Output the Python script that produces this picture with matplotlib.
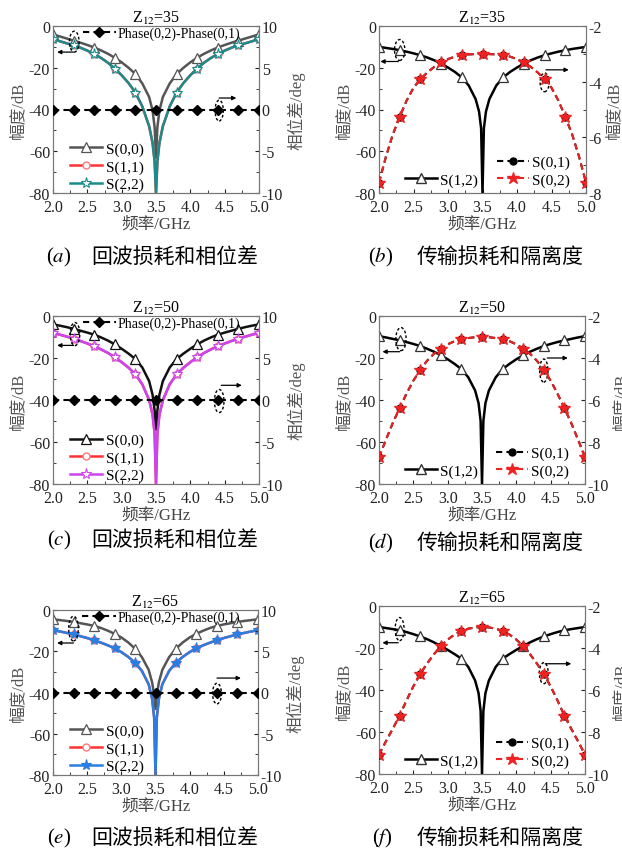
import matplotlib
matplotlib.use('Agg')
import matplotlib.pyplot as plt
import matplotlib.patches as patches
from matplotlib.lines import Line2D
from matplotlib.ticker import MultipleLocator, FormatStrFormatter

plt.rcParams['font.family'] = ['Liberation Serif', 'Noto Sans CJK SC']
plt.rcParams['mathtext.fontset'] = 'stix'
plt.rcParams['axes.unicode_minus'] = False

# frequency grid for the return-loss / S(1,2) curves (GHz)
freq = [2.0, 2.1, 2.2, 2.3, 2.4, 2.5, 2.6, 2.7, 2.8, 2.9, 3.0, 3.1, 3.2, 3.3, 3.4,
        3.45, 3.48, 3.5, 3.52, 3.55,
        3.6, 3.7, 3.8, 3.9, 4.0, 4.1, 4.2, 4.3, 4.4, 4.5, 4.6, 4.7, 4.8, 4.9, 5.0]
# frequency grid for the S(0,1)/S(0,2) curves
freq2 = [2.0, 2.1, 2.2, 2.3, 2.4, 2.5, 2.6, 2.7, 2.8, 2.9, 3.0, 3.1, 3.2, 3.3, 3.4, 3.5,
         3.6, 3.7, 3.8, 3.9, 4.0, 4.1, 4.2, 4.3, 4.4, 4.5, 4.6, 4.7, 4.8, 4.9, 5.0]
# phase markers
freq_ph = [2.0, 2.3, 2.6, 2.9, 3.2, 3.5, 3.8, 4.1, 4.4, 4.7, 5.0]
phase_diff = [0, 0, 0, 0, 0, 0, 0, 0, 0, 0, 0]

# Z12 = 35
s00_35 = [-4.0, -5.0, -6.0, -7.0, -8.0, -9.1, -10.3, -11.7, -13.3, -15.2, -17.4, -20.0, -23.0, -27.5, -34.0,
          -40.5, -48.5, -63.0, -48.5, -40.5,
          -34.0, -27.5, -23.0, -20.0, -17.4, -15.2, -13.3, -11.7, -10.3, -9.1, -8.0, -7.0, -6.0, -5.0, -4.0]
s22_35 = [-6.3, -7.3, -8.3, -9.2, -10.4, -11.8, -13.5, -15.3, -17.6, -20.4, -23.6, -27.3, -31.9, -38.5, -48.0,
          -56.0, -65.0, -80.0, -65.0, -56.0,
          -48.0, -38.5, -31.9, -27.3, -23.6, -20.4, -17.6, -15.3, -13.5, -11.8, -10.4, -9.2, -8.3, -7.3, -6.3]
s12_35 = [-10.0, -10.5, -11.0, -11.6, -12.3, -13.1, -14.0, -15.1, -16.4, -18.0, -19.9, -22.0, -24.6, -28.5, -35.0,
          -41.0, -49.0, -80.0, -49.0, -41.0,
          -35.0, -28.5, -24.6, -22.0, -19.9, -18.0, -16.4, -15.1, -14.0, -13.1, -12.3, -11.6, -11.0, -10.5, -10.0]
s02_35 = [-7.63, -6.70, -5.90, -5.26, -4.68, -4.22, -3.91, -3.67, -3.47, -3.31, -3.19, -3.10, -3.05, -3.02, -3.01, -3.00,
          -3.01, -3.02, -3.05, -3.10, -3.19, -3.31, -3.47, -3.67, -3.91, -4.22, -4.68, -5.26, -5.90, -6.70, -7.63]

# Z12 = 50
s00_50 = [-4.0, -4.6, -5.3, -6.1, -7.0, -7.9, -8.9, -10.2, -11.7, -13.5, -15.6, -17.9, -20.5, -24.5, -31.0,
          -37.5, -45.0, -54.0, -45.0, -37.5,
          -31.0, -24.5, -20.5, -17.9, -15.6, -13.5, -11.7, -10.2, -8.9, -7.9, -7.0, -6.1, -5.3, -4.6, -4.0]
s22_50 = [-8.0, -8.9, -9.8, -10.8, -11.9, -13.1, -14.4, -15.9, -17.6, -19.6, -22.0, -24.6, -27.8, -32.5, -40.0,
          -47.0, -56.0, -80.0, -56.0, -47.0,
          -40.0, -32.5, -27.8, -24.6, -22.0, -19.6, -17.6, -15.9, -14.4, -13.1, -11.9, -10.8, -9.8, -8.9, -8.0]
s12_50 = [-9.6, -10.2, -10.9, -11.6, -12.4, -13.3, -14.3, -15.6, -17.0, -18.7, -20.6, -22.8, -25.3, -29.2, -35.5,
          -41.5, -50.0, -80.0, -50.0, -41.5,
          -35.5, -29.2, -25.3, -22.8, -20.6, -18.7, -17.0, -15.6, -14.3, -13.3, -12.4, -11.6, -10.9, -10.2, -9.6]
s02_50 = [-8.73, -7.90, -7.10, -6.39, -5.70, -5.08, -4.57, -4.13, -3.80, -3.55, -3.35, -3.20, -3.11, -3.05, -3.01, -3.00,
          -3.01, -3.05, -3.11, -3.20, -3.35, -3.55, -3.80, -4.13, -4.57, -5.08, -5.70, -6.39, -7.10, -7.90, -8.73]

# Z12 = 65
s00_65 = [-4.5, -4.9, -5.3, -5.8, -6.4, -7.0, -7.7, -8.7, -10.0, -11.5, -13.3, -15.7, -18.7, -22.8, -29.0,
          -35.0, -41.0, -48.0, -41.0, -35.0,
          -29.0, -22.8, -18.7, -15.7, -13.3, -11.5, -10.0, -8.7, -7.7, -7.0, -6.4, -5.8, -5.3, -4.9, -4.5]
s22_65 = [-9.8, -10.4, -11.1, -11.8, -12.7, -13.6, -14.7, -15.8, -17.1, -18.5, -20.4, -22.7, -25.5, -29.5, -36.0,
          -43.0, -52.0, -80.0, -52.0, -43.0,
          -36.0, -29.5, -25.5, -22.7, -20.4, -18.5, -17.1, -15.8, -14.7, -13.6, -12.7, -11.8, -11.1, -10.4, -9.8]
s12_65 = [-10.0, -10.5, -11.0, -11.6, -12.4, -13.4, -14.5, -15.8, -17.3, -19.1, -20.9, -22.9, -25.1, -29.0, -35.5,
          -41.5, -50.0, -80.0, -50.0, -41.5,
          -35.5, -29.0, -25.1, -22.9, -20.9, -19.1, -17.3, -15.8, -14.5, -13.4, -12.4, -11.6, -11.0, -10.5, -10.0]
s02_65 = [-9.08, -8.45, -7.85, -7.22, -6.50, -5.83, -5.24, -4.74, -4.30, -3.91, -3.60, -3.36, -3.19, -3.08, -3.02, -3.00,
          -3.02, -3.08, -3.19, -3.36, -3.60, -3.91, -4.30, -4.74, -5.24, -5.83, -6.50, -7.22, -7.85, -8.45, -9.08]

titles = ['35', '50', '65']
captions_left = ['a', 'c', 'e']
captions_right = ['b', 'd', 'f']

W, H = 622, 854
fig = plt.figure(figsize=(W / 100, H / 100), dpi=100)

mark_idx = [0, 3, 6, 9, 12, 22, 25, 28, 31, 34]
tick_kw = dict(direction='in', labelsize=11.5, colors='#222222', length=3, pad=2)
DASH = (0, (3, 2))


def box(x0, y0, x1, y1):
    return [x0 / W, 1 - y1 / H, (x1 - x0) / W, (y1 - y0) / H]


def style_axes(ax):
    ax.set_xlim(2.0, 5.0)
    ax.set_ylim(-80, 0)
    ax.xaxis.set_major_locator(MultipleLocator(0.5))
    ax.xaxis.set_minor_locator(MultipleLocator(0.25))
    ax.yaxis.set_major_locator(MultipleLocator(20))
    ax.yaxis.set_minor_locator(MultipleLocator(10))
    ax.tick_params(which='both', **tick_kw)
    ax.tick_params(which='minor', length=2)
    ax.tick_params(axis='x', pad=4)
    ax.xaxis.set_major_formatter(FormatStrFormatter('%.1f'))
    for sp in ax.spines.values():
        sp.set_color('#777777')
    ax.set_xlabel('频率/GHz', fontsize=12, color='#444444', labelpad=0.5)
    ax.set_ylabel('幅度/dB', fontsize=12, color='#555555', labelpad=2)


def style_right(ax2, lo, hi, major, minor, label):
    ax2.set_ylim(lo, hi)
    ax2.yaxis.set_major_locator(MultipleLocator(major))
    ax2.yaxis.set_minor_locator(MultipleLocator(minor))
    ax2.tick_params(which='both', **tick_kw)
    ax2.tick_params(which='minor', length=2)
    for sp in ax2.spines.values():
        sp.set_color('#777777')
    ax2.set_ylabel(label, fontsize=12, color='#555555', labelpad=3)


def ellipse_arrow(ax, cx, cy, w, h, ay, ax0, ax1):
    ax.add_patch(patches.Ellipse((cx, cy), w, h, fill=False, ls=(0, (2, 1.5)),
                                 lw=1.0, ec='black', zorder=6))
    ax.annotate('', xy=(ax1, ay), xytext=(ax0, ay),
                arrowprops=dict(arrowstyle='-|>', lw=0.9, color='black',
                                mutation_scale=6, shrinkA=0, shrinkB=0), zorder=6)


def caption(x_label_end, x_text, y, letter, text):
    fig.text(x_label_end / W, 1 - y / H, '($' + letter + '$)', fontsize=15,
             ha='right', va='center')
    fig.text(x_text / W, 1 - y / H, text, fontsize=15, ha='left', va='center',
             family='Noto Sans CJK SC')


def return_panel(pos, s00, s22, c00, c22, zlabel, cap, star_fill, ell):
    ax = fig.add_axes(box(*pos))
    ax2 = ax.twinx()
    l11, = ax.plot(freq, s22, color='#ff3333', lw=1.8, marker='o', ms=5, mfc='white',
                   mec='#ff7777', markevery=mark_idx, zorder=3)
    l00, = ax.plot(freq, s00, color=c00, lw=1.8, marker='^', ms=6.5, mfc='white', mec=c00,
                   mew=0.9, markevery=mark_idx, zorder=4)
    l22, = ax.plot(freq, s22, color=c22, lw=1.8, marker='*', ms=8,
                   mfc=(c22 if star_fill else 'white'), mec=c22, mew=0.8,
                   markevery=mark_idx, zorder=5)
    style_axes(ax)
    ax2.plot(freq_ph, phase_diff, color='black', lw=1.5, ls=DASH, marker='D',
             ms=5.5, zorder=6)
    style_right(ax2, -10, 10, 5, 2.5, '相位差/deg')
    ax.set_title('Z$_{12}$=' + zlabel, fontsize=11.5, pad=3)

    ax.legend([l00, l11, l22], ['S(0,0)', 'S(1,1)', 'S(2,2)'], loc='lower left',
              bbox_to_anchor=(0.04, -0.045), frameon=False, fontsize=11,
              handlelength=2.1, handletextpad=0.2, labelspacing=0.25, borderaxespad=0.2)
    ph = Line2D([], [], color='black', lw=1.5, ls=DASH, marker='D', ms=5.5)
    ax2.legend([ph], ['Phase(0,2)-Phase(0,1)'], loc='upper left',
               bbox_to_anchor=(0.11, 1.04), frameon=False, fontsize=10,
               handlelength=2.4, handletextpad=0.15, borderaxespad=0.1)
    for e in ell:
        ellipse_arrow(ax, *e)
    caption(71, 91, cap[1], cap[0], '回波损耗和相位差')


def trans_panel(pos, s12, s02, rlim, zlabel, cap, ell):
    ax = fig.add_axes(box(*pos))
    ax2 = ax.twinx()
    ax.plot(freq, s12, color='black', lw=1.8, marker='^', ms=6.5, mfc='white', mec='#333333',
            mew=0.9, markevery=mark_idx, zorder=4)
    style_axes(ax)
    ax2.plot(freq2, s02, color='black', lw=1.5, ls=DASH, marker='o', ms=5,
             markevery=3, zorder=3)
    ax2.plot(freq2, s02, color='#ee2222', lw=1.5, ls=DASH, marker='*', ms=9,
             markevery=3, zorder=4)
    style_right(ax2, rlim, -2, 2, 1, '幅度/dB')
    ax.set_title('Z$_{12}$=' + zlabel, fontsize=11.5, pad=3)

    h12 = Line2D([], [], color='black', lw=1.8, marker='^', ms=6.5, mfc='white', mec='#333333')
    ax.legend([h12], ['S(1,2)'], loc='lower left', bbox_to_anchor=(0.06, -0.045),
              frameon=False, fontsize=11, handlelength=2.1, handletextpad=0.2)
    h01 = Line2D([], [], color='black', lw=1.5, ls=DASH, marker='o', ms=5)
    h02 = Line2D([], [], color='#ee2222', lw=1.5, ls=DASH, marker='*', ms=9)
    ax2.legend([h01, h02], ['S(0,1)', 'S(0,2)'], loc='lower right',
               bbox_to_anchor=(0.99, -0.045), frameon=False, fontsize=11,
               handlelength=2.1, handletextpad=0.2, labelspacing=0.25)
    for e in ell:
        ellipse_arrow(ax, *e)
    caption(393, 417, cap[1], cap[0], '传输损耗和隔离度')


return_panel((53, 27, 259, 194), s00_35, s22_35, '#555555', '#1a8c8c', titles[0],
             (captions_left[0], 257), False,
             [(2.31, -7.5, 0.14, 10, -12.5, 2.29, 2.06), (4.42, -40.5, 0.12, 10, -34.5, 4.42, 4.67)])
trans_panel((379, 27, 586, 194), s12_35, s02_35, -8, titles[0], (captions_right[0], 257),
            [(2.3, -11.5, 0.15, 10, -17, 2.28, 2.02), (4.4, -27, 0.13, 9, -21, 4.42, 4.75)])
return_panel((53, 317, 259, 485), s00_50, s22_50, '#111111', '#cc44ee', titles[1],
             (captions_left[1], 540), False,
             [(2.32, -8.6, 0.14, 11, -14, 2.3, 2.06), (4.42, -40.5, 0.14, 11, -33, 4.45, 4.75)])
trans_panel((379, 317, 585, 485), s12_50, s02_50, -10, titles[1], (captions_right[1], 543),
            [(2.32, -11, 0.15, 11, -17, 2.3, 2.05), (4.4, -26, 0.12, 11, -20, 4.45, 4.75)])
return_panel((53, 611, 258, 776), s00_65, s22_65, '#555555', '#2a7de1', titles[2],
             (captions_left[2], 838), True,
             [(2.3, -9, 0.14, 12, -16, 2.3, 2.06), (4.4, -40.5, 0.13, 10, -33, 4.4, 4.75)])
trans_panel((379, 607, 585, 775), s12_65, s02_65, -10, titles[2], (captions_right[2], 838),
            [(2.3, -11, 0.13, 11, -17.5, 2.28, 2.05), (4.4, -32, 0.13, 10, -27.5, 4.42, 4.8)])

fig.savefig('out.png', dpi=100, facecolor='white')
